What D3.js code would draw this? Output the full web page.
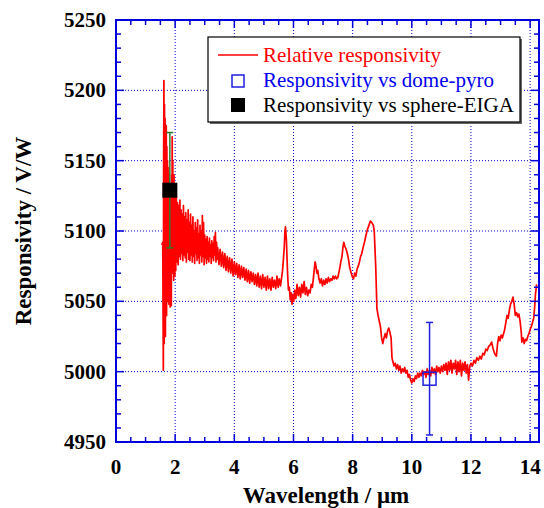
<!DOCTYPE html>
<html lang="en">
<head>
  <meta charset="utf-8">
  <script src="https://cdn.jsdelivr.net/npm/d3@7/dist/d3.min.js"></script>
  <style>
    body { margin: 0; background: #fff; }
    svg { display: block; }
  </style>
</head>
<body>
<svg id="chart" width="544" height="508"></svg>
<script>
  // tick values
  var xTicks = [0, 2, 4, 6, 8, 10, 12, 14];
  var yTicks = [4950, 5000, 5050, 5100, 5150, 5200, 5250];

  // relative responsivity spectrum [wavelength um, V/W]
  var relative = [
    [1.55, 5090], [1.58, 5092], [1.60, 5001], [1.61, 5150], [1.62, 5207], [1.63, 5020], [1.64, 5190], [1.65, 5030],
    [1.66, 5180], [1.67, 5025], [1.68, 5170], [1.69, 5045], [1.70, 5175], [1.71, 5040], [1.72, 5160], [1.73, 5055],
    [1.74, 5150], [1.75, 5050], [1.76, 5145], [1.77, 5060], [1.78, 5140], [1.79, 5048], [1.80, 5135], [1.81, 5065],
    [1.82, 5130], [1.83, 5046], [1.84, 5120], [1.85, 5060], [1.86, 5125], [1.87, 5047], [1.88, 5140], [1.89, 5070],
    [1.90, 5167], [1.91, 5075], [1.92, 5150], [1.93, 5070], [1.94, 5135], [1.95, 5065], [1.96, 5140], [1.97, 5075],
    [1.98, 5132], [1.99, 5068], [2.00, 5128], [2.02, 5072], [2.04, 5125], [2.06, 5078], [2.08, 5120], [2.10, 5076],
    [2.12, 5118], [2.14, 5082], [2.16, 5122], [2.18, 5080], [2.20, 5115], [2.22, 5084], [2.24, 5112], [2.26, 5079],
    [2.28, 5118], [2.30, 5083], [2.32, 5110], [2.34, 5081], [2.36, 5113], [2.38, 5078], [2.40, 5108], [2.42, 5085],
    [2.44, 5115], [2.46, 5080], [2.48, 5106], [2.50, 5079], [2.52, 5112], [2.54, 5083], [2.56, 5104], [2.58, 5078],
    [2.60, 5110], [2.62, 5082], [2.64, 5100], [2.66, 5077], [2.68, 5106], [2.70, 5084], [2.72, 5102], [2.74, 5079],
    [2.76, 5108], [2.78, 5081], [2.80, 5098], [2.82, 5077], [2.84, 5104], [2.86, 5083], [2.88, 5100], [2.90, 5078],
    [2.92, 5111], [2.94, 5082], [2.96, 5106], [2.98, 5076], [3.00, 5097], [3.02, 5081], [3.04, 5094], [3.06, 5077],
    [3.08, 5096], [3.10, 5080], [3.12, 5092], [3.14, 5078], [3.16, 5095], [3.18, 5082], [3.20, 5090], [3.22, 5077],
    [3.24, 5093], [3.26, 5081], [3.28, 5091], [3.30, 5079], [3.32, 5096], [3.34, 5083], [3.36, 5099], [3.38, 5078],
    [3.40, 5092], [3.42, 5080], [3.44, 5088], [3.48, 5076], [3.52, 5087], [3.56, 5075], [3.60, 5085], [3.64, 5074],
    [3.68, 5084], [3.72, 5072], [3.76, 5082], [3.80, 5071], [3.84, 5081], [3.88, 5070], [3.92, 5080], [3.96, 5068],
    [4.00, 5078], [4.04, 5069], [4.08, 5077], [4.12, 5067], [4.16, 5076], [4.20, 5066], [4.24, 5075], [4.28, 5067],
    [4.32, 5074], [4.36, 5065], [4.40, 5073], [4.44, 5064], [4.48, 5072], [4.52, 5063], [4.56, 5071], [4.60, 5064],
    [4.64, 5070], [4.68, 5062], [4.72, 5069], [4.76, 5061], [4.80, 5070], [4.84, 5060], [4.88, 5068], [4.92, 5059],
    [4.96, 5069], [5.00, 5060], [5.04, 5067], [5.08, 5058], [5.12, 5068], [5.16, 5059], [5.20, 5066], [5.24, 5058],
    [5.28, 5067], [5.32, 5060], [5.36, 5065], [5.40, 5059], [5.44, 5068], [5.48, 5060], [5.52, 5066], [5.56, 5061],
    [5.60, 5067], [5.63, 5072], [5.66, 5080], [5.69, 5089], [5.71, 5100], [5.73, 5103], [5.76, 5094], [5.78, 5082],
    [5.80, 5070], [5.83, 5058], [5.86, 5060], [5.89, 5051], [5.92, 5056], [5.95, 5048], [5.98, 5055], [6.01, 5050],
    [6.04, 5058], [6.08, 5052], [6.12, 5062], [6.16, 5054], [6.20, 5060], [6.24, 5053], [6.28, 5062], [6.32, 5056],
    [6.36, 5064], [6.40, 5055], [6.44, 5060], [6.48, 5054], [6.52, 5058], [6.56, 5056], [6.60, 5062], [6.64, 5060],
    [6.67, 5066], [6.70, 5072], [6.73, 5078], [6.76, 5075], [6.79, 5070], [6.82, 5072], [6.86, 5066], [6.90, 5063],
    [6.94, 5066], [6.98, 5061], [7.02, 5065], [7.06, 5062], [7.10, 5066], [7.14, 5063], [7.18, 5067], [7.22, 5064],
    [7.26, 5066], [7.30, 5065], [7.34, 5068], [7.38, 5066], [7.42, 5068], [7.46, 5066], [7.50, 5067], [7.55, 5072],
    [7.60, 5078], [7.64, 5082], [7.67, 5088], [7.70, 5092], [7.74, 5089], [7.78, 5087], [7.82, 5084], [7.86, 5080],
    [7.90, 5074], [7.94, 5071], [7.98, 5068], [8.03, 5066], [8.07, 5070], [8.11, 5068], [8.15, 5073], [8.19, 5075],
    [8.23, 5078], [8.27, 5082], [8.31, 5084], [8.35, 5088], [8.40, 5092], [8.45, 5097], [8.50, 5101], [8.55, 5104],
    [8.60, 5107], [8.65, 5106], [8.70, 5104], [8.73, 5100], [8.76, 5085], [8.78, 5075], [8.80, 5060], [8.82, 5045],
    [8.86, 5040], [8.90, 5036], [8.94, 5032], [8.98, 5024], [9.02, 5020], [9.06, 5024], [9.10, 5027], [9.14, 5024],
    [9.18, 5029], [9.22, 5031], [9.26, 5028], [9.30, 5024], [9.33, 5010], [9.36, 5007], [9.40, 5004], [9.44, 5006],
    [9.48, 5002], [9.52, 5005], [9.56, 5001], [9.60, 5004], [9.64, 4999], [9.68, 5002], [9.72, 5000], [9.76, 5003],
    [9.80, 4999], [9.84, 5001], [9.88, 4996], [9.92, 4998], [9.96, 4994], [10.00, 4992], [10.04, 4995], [10.08, 4993],
    [10.12, 4997], [10.16, 4995], [10.20, 4999], [10.24, 4996], [10.28, 4999], [10.32, 4997], [10.36, 5001], [10.40, 4998],
    [10.44, 5000], [10.48, 4996], [10.52, 5002], [10.56, 4998], [10.60, 5001], [10.64, 4997], [10.68, 5003], [10.72, 4999],
    [10.76, 5002], [10.80, 4998], [10.84, 5004], [10.88, 5000], [10.92, 5003], [10.96, 4999], [11.00, 5004], [11.04, 5000],
    [11.08, 5005], [11.12, 5001], [11.16, 5006], [11.20, 4998], [11.24, 5007], [11.28, 5001], [11.32, 5008], [11.36, 4999],
    [11.40, 5006], [11.44, 5002], [11.48, 5008], [11.52, 4998], [11.56, 5007], [11.60, 5000], [11.64, 5008], [11.68, 4997],
    [11.72, 5006], [11.76, 5001], [11.80, 5007], [11.84, 4999], [11.88, 5005], [11.92, 4994], [11.96, 5004], [12.00, 5006],
    [12.05, 5004], [12.10, 5008], [12.15, 5006], [12.20, 5010], [12.25, 5008], [12.30, 5011], [12.35, 5009], [12.40, 5013],
    [12.45, 5012], [12.50, 5016], [12.55, 5015], [12.60, 5018], [12.65, 5019], [12.70, 5021], [12.74, 5017], [12.78, 5014],
    [12.82, 5012], [12.86, 5011], [12.90, 5020], [12.94, 5025], [12.98, 5022], [13.02, 5026], [13.06, 5024], [13.10, 5027],
    [13.14, 5030], [13.18, 5035], [13.22, 5040], [13.26, 5038], [13.30, 5044], [13.34, 5048], [13.38, 5050], [13.42, 5053],
    [13.46, 5048], [13.50, 5040], [13.54, 5042], [13.58, 5039], [13.62, 5041], [13.66, 5036], [13.70, 5028], [13.72, 5021],
    [13.76, 5024], [13.80, 5020], [13.84, 5023], [13.88, 5022], [13.92, 5025], [13.96, 5027], [14.00, 5030], [14.04, 5032],
    [14.08, 5035], [14.12, 5038], [14.15, 5045], [14.18, 5055], [14.22, 5062]
  ];

  // absolute calibration points: wavelength, value, error
  var domePyro = [{ x: 10.6, y: 4995, err: 40 }];
  var sphereEiga = [{ x: 1.82, y: 5129, err: 41 }];

  var legendLabels = ['Relative responsivity', 'Responsivity vs dome-pyro', 'Responsivity vs sphere-EIGA'];

  var margin = { top: 20, left: 116, bottom: 66, right: 5 };
  var W = 544, H = 508;
  var axisBlue = '#0000dd';
  var serif = 'Liberation Serif';

  var svg = d3.select('#chart').attr('font-family', serif);

  var x = d3.scaleLinear().domain([0, 14.3]).range([margin.left, W - margin.right]);
  var y = d3.scaleLinear().domain([4950, 5250]).range([H - margin.bottom, margin.top]);

  var x0 = x.range()[0], x1 = x.range()[1], y0 = y.range()[0], y1 = y.range()[1];

  // dotted grid
  var grid = svg.append('g').attr('stroke', axisBlue).attr('stroke-width', 1).attr('stroke-dasharray', '1,2');
  grid.selectAll('.gx').data(xTicks.filter(function (d) { return d > 0; }))
    .enter().append('line')
    .attr('x1', function (d) { return x(d); }).attr('x2', function (d) { return x(d); })
    .attr('y1', y0).attr('y2', y1);
  grid.selectAll('.gy').data(yTicks.filter(function (d) { return d > 4950 && d < 5250; }))
    .enter().append('line')
    .attr('y1', function (d) { return y(d); }).attr('y2', function (d) { return y(d); })
    .attr('x1', x0).attr('x2', x1);

  // red spectrum
  var line = d3.line()
    .x(function (d) { return x(d[0]); })
    .y(function (d) { return y(d[1]); });

  svg.append('path')
    .datum(relative)
    .attr('d', line)
    .attr('fill', 'none')
    .attr('stroke', '#ff0000')
    .attr('stroke-width', 1.7)
    .attr('stroke-linejoin', 'round');

  // error bar helper: vertical line plus caps
  function errorBar(data, color, cap) {
    var g = svg.append('g').attr('stroke', color).attr('stroke-width', 1.5);
    g.selectAll('.v').data(data).enter().append('line')
      .attr('x1', function (d) { return x(d.x); }).attr('x2', function (d) { return x(d.x); })
      .attr('y1', function (d) { return y(d.y - d.err); }).attr('y2', function (d) { return y(d.y + d.err); });
    [-1, 1].forEach(function (s) {
      g.selectAll('.c').data(data).enter().append('line')
        .attr('x1', function (d) { return x(d.x) - cap; }).attr('x2', function (d) { return x(d.x) + cap; })
        .attr('y1', function (d) { return y(d.y + s * d.err); }).attr('y2', function (d) { return y(d.y + s * d.err); });
    });
  }

  errorBar(sphereEiga, '#2f7a2f', 3.5);
  svg.selectAll('.eiga').data(sphereEiga).enter().append('rect')
    .attr('x', function (d) { return x(d.x) - 7.5; })
    .attr('y', function (d) { return y(d.y) - 7.5; })
    .attr('width', 15).attr('height', 15)
    .attr('fill', '#000');

  errorBar(domePyro, '#2020e0', 3.5);
  svg.selectAll('.pyro').data(domePyro).enter().append('rect')
    .attr('x', function (d) { return x(d.x) - 6.5; })
    .attr('y', function (d) { return y(d.y) - 6.5; })
    .attr('width', 13).attr('height', 13)
    .attr('fill', 'none')
    .attr('stroke', '#2020e0')
    .attr('stroke-width', 1.5);

  // frame with inward ticks on all four sides
  var xMinor = d3.range(0.5, 14.3, 0.5).filter(function (d) { return d % 2 !== 0; });
  var yMinor = d3.range(4960, 5250, 10).filter(function (d) { return d % 50 !== 0; });

  function ticks(g, vals, len, horiz) {
    vals.forEach(function (v) {
      if (horiz) {
        g.append('line').attr('x1', x(v)).attr('x2', x(v)).attr('y1', y0).attr('y2', y0 - len);
        g.append('line').attr('x1', x(v)).attr('x2', x(v)).attr('y1', y1).attr('y2', y1 + len);
      } else {
        g.append('line').attr('y1', y(v)).attr('y2', y(v)).attr('x1', x0).attr('x2', x0 + len);
        g.append('line').attr('y1', y(v)).attr('y2', y(v)).attr('x1', x1).attr('x2', x1 - len);
      }
    });
  }

  var frame = svg.append('g').attr('stroke', axisBlue).attr('stroke-width', 1.5);
  ticks(frame, xTicks, 8, true);
  ticks(frame, xMinor, 5, true);
  ticks(frame, yTicks, 8, false);
  ticks(frame, yMinor, 5, false);
  frame.append('rect')
    .attr('x', x0).attr('y', y1)
    .attr('width', x1 - x0).attr('height', y0 - y1)
    .attr('fill', 'none')
    .attr('stroke-width', 2);

  // tick labels
  svg.selectAll('.xl').data(xTicks).enter().append('text')
    .attr('font-family', serif).attr('font-weight', 'bold').attr('font-size', 21)
    .attr('x', function (d) { return x(d); })
    .attr('y', y0 + 32)
    .attr('text-anchor', 'middle')
    .text(function (d) { return d; });

  svg.selectAll('.yl').data(yTicks).enter().append('text')
    .attr('font-family', serif).attr('font-weight', 'bold').attr('font-size', 21)
    .attr('x', x0 - 10)
    .attr('y', function (d) { return y(d) + 7; })
    .attr('text-anchor', 'end')
    .text(function (d) { return d; });

  // axis titles
  svg.append('text')
    .attr('font-family', serif).attr('font-weight', 'bold').attr('font-size', 23)
    .attr('x', 326)
    .attr('y', 503)
    .attr('text-anchor', 'middle')
    .text('Wavelength / μm');

  svg.append('text')
    .attr('font-family', serif).attr('font-weight', 'bold').attr('font-size', 23)
    .attr('transform', 'translate(31,' + (y0 + y1) / 2 + ') rotate(-90)')
    .attr('text-anchor', 'middle')
    .text('Responsivity / V/W');

  // legend
  var legend = svg.append('g');
  legend.append('rect')
    .attr('x', 210).attr('y', 39).attr('width', 312).attr('height', 85)
    .attr('fill', '#666');
  legend.append('rect')
    .attr('x', 208).attr('y', 37).attr('width', 312).attr('height', 85)
    .attr('fill', '#fff').attr('stroke', '#000').attr('stroke-width', 1.2);

  legend.append('line')
    .attr('x1', 218).attr('x2', 258).attr('y1', 55).attr('y2', 55)
    .attr('stroke', '#ff0000').attr('stroke-width', 1.3);
  legend.append('rect')
    .attr('x', 232).attr('y', 75).attr('width', 12).attr('height', 12)
    .attr('fill', 'none').attr('stroke', '#2020e0').attr('stroke-width', 1.5);
  legend.append('rect')
    .attr('x', 231).attr('y', 98).attr('width', 14).attr('height', 14)
    .attr('fill', '#000');

  var legendColors = ['#ff0000', '#0000ee', '#000'];
  legend.selectAll('.lt').data(legendLabels).enter().append('text')
    .attr('font-family', serif).attr('font-size', 21)
    .attr('x', 263)
    .attr('y', function (d, i) { return 62 + i * 25; })
    .attr('fill', function (d, i) { return legendColors[i]; })
    .text(function (d) { return d; });
</script>
</body>
</html>
